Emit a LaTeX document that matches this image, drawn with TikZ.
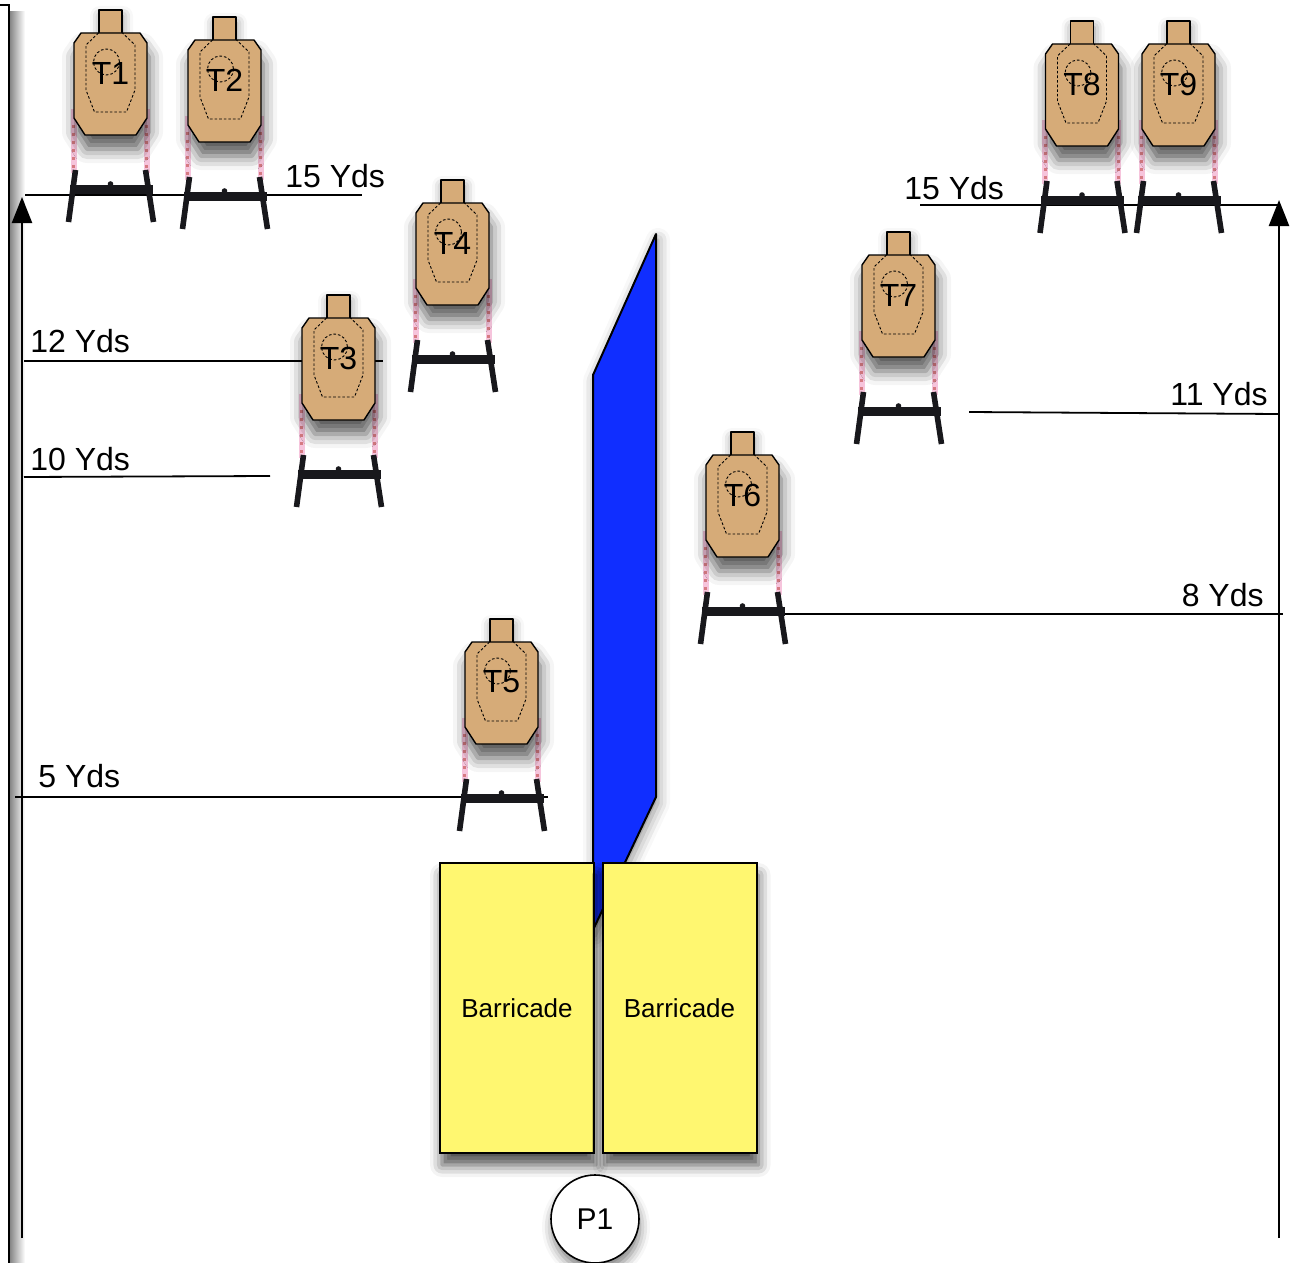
\documentclass[tikz,border=0pt]{standalone}
\usepackage{fontspec}
\setmainfont{Liberation Sans}
\usetikzlibrary{arrows.meta, shadows.blur}
\definecolor{cardboard}{RGB}{214,171,120}
\definecolor{wallblue}{RGB}{16,46,255}
\definecolor{baryellow}{RGB}{255,247,112}
\definecolor{postpink}{RGB}{246,196,220}
\definecolor{postdot}{RGB}{214,122,130}
\definecolor{standblack}{RGB}{24,24,28}

\tikzset{
  tbody/.style={draw=black, line width=0.7pt, fill=cardboard, line join=round},
  zone/.style={draw=black, line width=0.45pt, dash pattern=on 1.3pt off 1pt},
  tlabel/.style={font=\fontsize{16}{18}\selectfont, inner sep=0pt},
  pics/target/.style={code={
    % posts behind the cardboard
    \draw[postpink, line width=3pt] (-37,76) -- (-37,140) (36,76) -- (36,140);
    \draw[postdot, line width=1.5pt, dash pattern=on 1.5pt off 2.5pt] (-37,92) -- (-37,140) (36,92) -- (36,140);
    % legs and base
    \draw[standblack, line width=2.8pt] (-35,137) -- (-42,189) (35,137) -- (43,189);
    \fill[standblack] (-41,152) rectangle (42,161);
    \fill[standblack] (0,151) circle (2.8);
    % head and body
    \draw[tbody, blur shadow={shadow xshift=0.5pt, shadow yshift=-3pt, shadow blur radius=5pt, shadow opacity=45}] (-11.5,-23) rectangle (11.5,1);
    \draw[tbody, blur shadow={shadow xshift=1pt, shadow yshift=-7pt, shadow blur radius=7pt, shadow opacity=65}]
      (-29.5,0) -- (29.5,0) -- (36.5,10) -- (36.5,85) -- (25.5,102) -- (-25.5,102) -- (-36.5,85) -- (-36.5,10) -- cycle;
    % scoring zones
    \draw[zone] (-12,0) -- (-24.5,12) -- (-24.5,57) -- (-16,79) -- (16,79) -- (24.5,57) -- (24.5,12) -- (12,0);
    \draw[zone] (-4,29) circle (13);
    \node[tlabel] (-name) at (0,40) {#1};
  }}
}

\begin{document}
\begin{tikzpicture}[
    x=0.5pt, y=-0.5pt,
    yardline/.style={line width=0.9pt},
    yds/.style={font=\fontsize{16}{18}\selectfont, inner sep=0pt, anchor=base west},
    rangearrow/.style={line width=1.2pt, -{Triangle[length=13pt, width=10pt]}},
    wall/.style={draw=black, line width=1pt, fill=wallblue, line join=round},
    barricade/.style={rectangle, draw=black, line width=1pt, fill=baryellow, minimum width=77pt, minimum height=145pt, font=\fontsize{13}{15}\selectfont},
    shooter/.style={circle, draw=black, line width=0.8pt, fill=white, minimum size=44pt, inner sep=0pt, font=\fontsize{15}{17}\selectfont},
]
\useasboundingbox (0,0) rectangle (1291,1263);

% side berm on the left
\shade[left color=black!50, right color=white] (9,12) rectangle (25,1263);
\draw[line width=1.1pt, fill=white] (-10,5) -- (9,5) -- (9,1280) -- (-10,1280);

% distance arrows
\draw[rangearrow] (22,1238) -- (22,197);
\draw[rangearrow] (1279,1238) -- (1279,200);

% yard lines, left side
\draw[yardline] (25,195) -- (362,195);
\node[yds] (l15) at (285,188) {15 Yds};
\draw[yardline] (24,361) -- (383,361);
\node[yds] (l12) at (30,352) {12 Yds};
\draw[yardline] (24,477) -- (270,476);
\node[yds] (l10) at (30,470) {10 Yds};
\draw[yardline] (15,797) -- (548,797);
\node[yds] (l5) at (38,787) {5 Yds};

% yard lines, right side
\draw[yardline] (920,205) -- (1280,205);
\node[yds] (r15) at (904,199) {15 Yds};
\draw[yardline] (969,412) -- (1279,414);
\node[yds, anchor=base east] (r11) at (1268,405) {11 Yds};
\draw[yardline] (785,614) -- (1283,614);
\node[yds, anchor=base east] (r8) at (1264,606) {8 Yds};

% targets
\pic (t1) at (110.5,33) {target=T1};
\pic (t2) at (224.5,40) {target=T2};
\pic (t3) at (338.5,318) {target=T3};
\pic (t4) at (452.5,203) {target=T4};
\pic (t5) at (501.5,642) {target=T5};
\pic (t6) at (742.5,455) {target=T6};
\pic (t7) at (898.5,255) {target=T7};
\pic (t8) at (1082,44) {target=T8};
\pic (t9) at (1178.5,44) {target=T9};

% blue wall
\draw[wall, blur shadow={shadow xshift=1pt, shadow yshift=-3pt, shadow blur radius=6pt, shadow opacity=45}]
  (656,234) -- (656,797) -- (593,930) -- (593,375) -- cycle;

% barricades and start position
\node[barricade, blur shadow={shadow xshift=1pt, shadow yshift=-6pt, shadow blur radius=6pt, shadow opacity=70}] (bar1) at (517,1008) {Barricade};
\node[barricade, blur shadow={shadow xshift=1pt, shadow yshift=-6pt, shadow blur radius=6pt, shadow opacity=70}] (bar2) at (679.5,1008) {Barricade};
\node[shooter, blur shadow={shadow xshift=0.5pt, shadow yshift=-4pt, shadow blur radius=5pt, shadow opacity=50}] (p1) at (595,1219) {P1};

\end{tikzpicture}
\end{document}
